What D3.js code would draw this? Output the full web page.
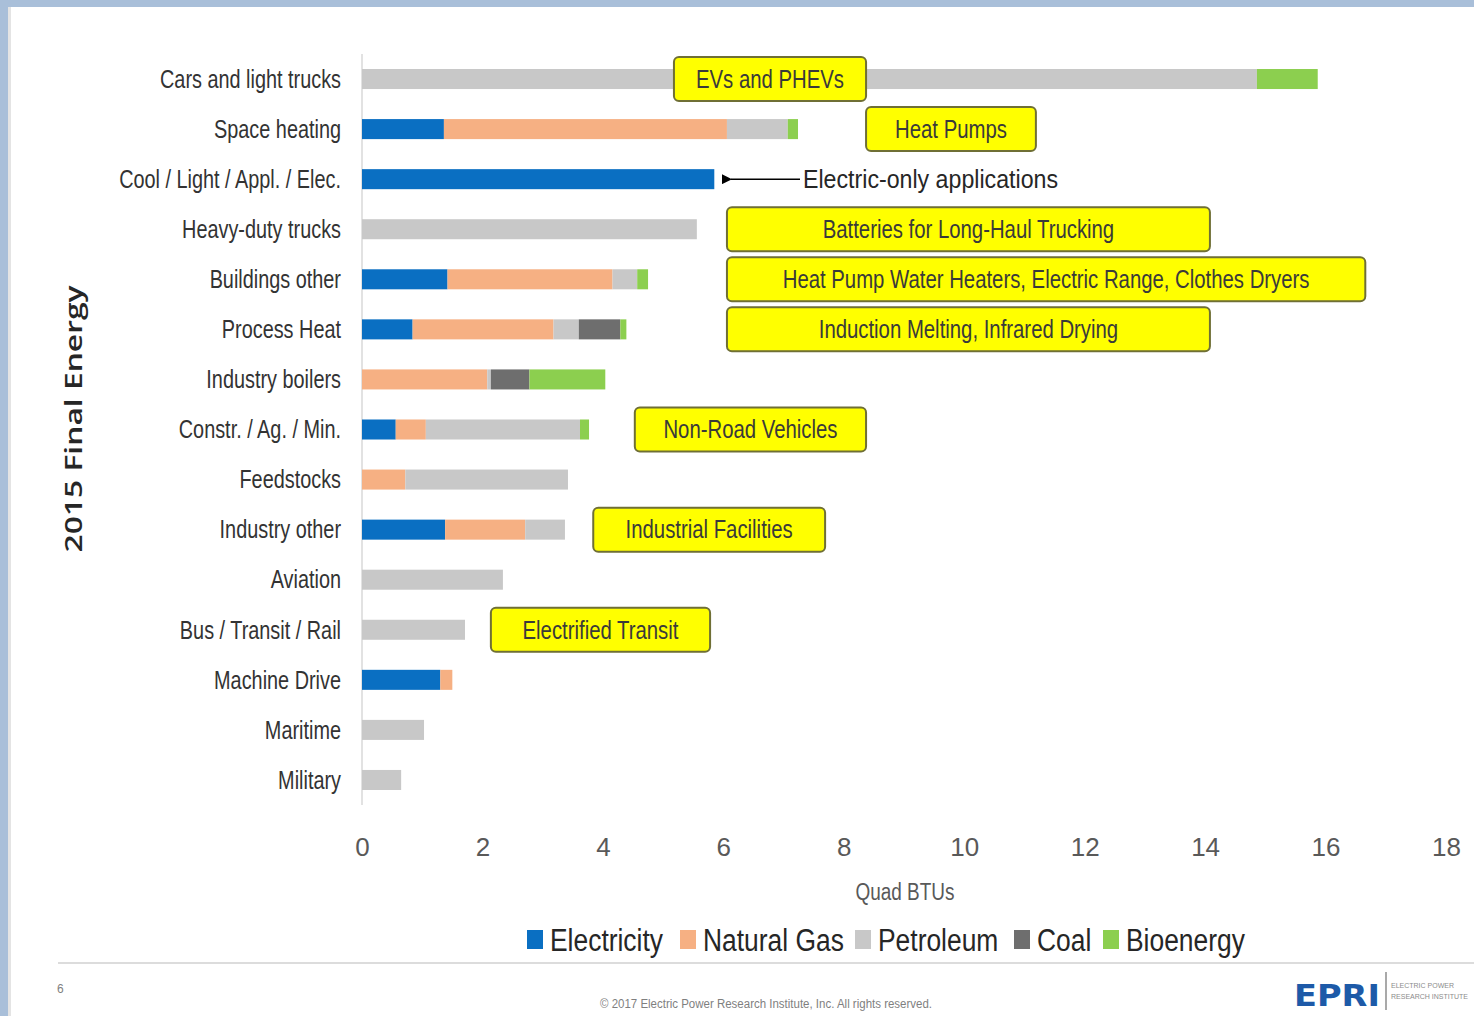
<!DOCTYPE html>
<html>
<head>
<meta charset="utf-8">
<script src="https://cdn.jsdelivr.net/npm/d3@7"></script>
<style>
  body { margin: 0; background: #ffffff; }
  svg { display: block; }
</style>
</head>
<body>
<script>
// 2015 final energy by end use, stacked by fuel (Quad BTUs)

let categories = ["Cars and light trucks", "Space heating", "Cool / Light / Appl. / Elec.", "Heavy-duty trucks",
    "Buildings other", "Process Heat", "Industry boilers", "Constr. / Ag. / Min.", "Feedstocks",
    "Industry other", "Aviation", "Bus / Transit / Rail", "Machine Drive", "Maritime", "Military"]

let fuels = ["Electricity", "Natural Gas", "Petroleum", "Coal", "Bioenergy"]

let electricity = [0, 1.36, 5.85, 0, 1.42, 0.84, 0, 0.56, 0, 1.38, 0, 0, 1.3, 0, 0]
let naturalGas  = [0, 4.70, 0, 0, 2.74, 2.34, 2.08, 0.50, 0.72, 1.33, 0, 0, 0.2, 0, 0]
let petroleum   = [14.86, 1.01, 0, 5.56, 0.41, 0.42, 0.06, 2.56, 2.70, 0.66, 2.34, 1.71, 0, 1.03, 0.65]
let coal        = [0, 0, 0, 0, 0, 0.69, 0.64, 0, 0, 0, 0, 0, 0, 0, 0]
let bioenergy   = [1.01, 0.17, 0, 0, 0.18, 0.10, 1.26, 0.15, 0, 0, 0, 0, 0, 0, 0]

let xTicks = [0, 2, 4, 6, 8, 10, 12, 14, 16, 18]

// callouts: text, row they sit on, left and right edge in Quad BTUs
let noteText  = ["EVs and PHEVs", "Heat Pumps", "Batteries for Long-Haul Trucking",
    "Heat Pump Water Heaters, Electric Range, Clothes Dryers", "Induction Melting, Infrared Drying",
    "Non-Road Vehicles", "Industrial Facilities", "Electrified Transit"]
let noteRow   = ["Cars and light trucks", "Space heating", "Heavy-duty trucks", "Buildings other",
    "Process Heat", "Constr. / Ag. / Min.", "Industry other", "Bus / Transit / Rail"]
let noteStart = [5.18, 8.37, 6.06, 6.06, 6.06, 4.53, 3.84, 2.14]
let noteEnd   = [8.37, 11.19, 14.08, 16.66, 14.08, 8.37, 7.69, 5.78]

function main(){

    let width = 1474
    let height = 1016
    let colors = ["#0a6fc2", "#f6b083", "#c8c8c8", "#6e6e6e", "#8ccf4f"]
    let font = "'Liberation Sans Narrow', 'Liberation Sans', sans-serif"

    let svg = d3.select('body')
        .append('svg')
        .attr('width', width)
        .attr('height', height)

    // slide frame
    svg.append('rect').attr('x', 0).attr('y', 0).attr('width', width).attr('height', 7).attr('fill', '#a9bfd9')
    svg.append('rect').attr('x', 0).attr('y', 0).attr('width', 8).attr('height', height).attr('fill', '#a9bfd9')
    svg.append('rect').attr('x', 8).attr('y', 7).attr('width', 3).attr('height', height).attr('fill', '#e4e4e4')

    let x = d3.scaleLinear()
                .domain([0, 18])
                .range([362, 1446])

    let y = d3.scaleBand()
                .domain(categories)
                .range([54, 805])
                .paddingInner(0.6)
                .paddingOuter(0.3)

    // squeeze text so it looks like the condensed slide font
    function squeeze(sel, ratio){
        sel.each(function(){
            let w = this.getComputedTextLength()
            d3.select(this).attr('textLength', w * ratio).attr('lengthAdjust', 'spacingAndGlyphs')
        })
    }
    function ratioFor(str, size, target){
        let t = svg.append('text').style('font-family', font).style('font-size', size + 'px').text(str)
        let r = target / t.node().getComputedTextLength()
        t.remove()
        return r
    }

    // stacked table
    let table = categories.map(function(c, i){
        return {cat: c, "Electricity": electricity[i], "Natural Gas": naturalGas[i],
                "Petroleum": petroleum[i], "Coal": coal[i], "Bioenergy": bioenergy[i]}
    })
    let series = d3.stack().keys(fuels)(table)

    // vertical axis line
    svg.append('line')
        .attr('x1', x(0)).attr('x2', x(0))
        .attr('y1', 54).attr('y2', 805)
        .attr('stroke', '#d9d9d9').attr('stroke-width', 1.5)

    svg.append('g')
        .selectAll('g')
        .data(series)
        .enter()
        .append('g')
        .attr('fill', function(d, i){ return colors[i] })
        .selectAll('rect')
        .data(function(d){ return d })
        .enter()
        .append('rect')
        .attr('x', function(d){ return x(d[0]) })
        .attr('y', function(d){ return y(d.data.cat) })
        .attr('width', function(d){ return x(d[1]) - x(d[0]) })
        .attr('height', y.bandwidth())

    // category labels
    let catRatio = ratioFor("Cars and light trucks", 25, 181)
    svg.append('g')
        .selectAll('text')
        .data(categories)
        .enter()
        .append('text')
        .attr('x', x(0) - 21)
        .attr('y', function(d){ return y(d) + y.bandwidth() / 2 })
        .attr('dy', '.35em')
        .attr('text-anchor', 'end')
        .style('font-family', font)
        .style('font-size', '25px')
        .attr('fill', '#333333')
        .text(function(d){ return d })
        .call(squeeze, catRatio)

    // x axis ticks
    let xAxis = svg.append('g')
        .attr('transform', 'translate(0,' + 838 + ')')
        .call(d3.axisBottom(x).tickValues(xTicks).tickSize(0).tickPadding(0))
    xAxis.select('.domain').remove()
    xAxis.selectAll('text')
        .style('font-family', font)
        .style('font-size', '26px')
        .attr('fill', '#595959')
        .attr('dy', '.71em')

    svg.append('text')
        .attr('x', 905).attr('y', 900)
        .attr('text-anchor', 'middle')
        .style('font-family', font)
        .style('font-size', '23px')
        .attr('fill', '#595959')
        .text('Quad BTUs')
        .call(squeeze, ratioFor('Quad BTUs', 23, 99))

    // y title
    svg.append('text')
        .attr('transform', 'translate(82,419) rotate(-90)')
        .attr('text-anchor', 'middle')
        .style('font-family', "'Open Sans', sans-serif")
        .style('font-weight', 600)
        .style('font-size', '24px')
        .attr('fill', '#262626')
        .text('2015 Final Energy')
        .attr('textLength', 267).attr('lengthAdjust', 'spacingAndGlyphs')

    // legend
    let legX = [527, 680, 855, 1014, 1103]
    let legRatio = ratioFor("Electricity", 31, 113)
    let leg = svg.append('g')
        .selectAll('g')
        .data(fuels)
        .enter()
        .append('g')
        .attr('transform', function(d, i){ return 'translate(' + legX[i] + ',940)' })
    leg.append('rect')
        .attr('x', 0).attr('y', -10)
        .attr('width', 16).attr('height', 19)
        .attr('fill', function(d, i){ return colors[i] })
    leg.append('text')
        .attr('x', 23).attr('y', 0)
        .attr('dy', '.35em')
        .style('font-family', font)
        .style('font-size', '31px')
        .attr('fill', '#262626')
        .text(function(d){ return d })
        .call(squeeze, legRatio)

    // callout boxes
    let notes = noteText.map(function(t, i){
        return {text: t, row: noteRow[i], x0: noteStart[i], x1: noteEnd[i]}
    })
    let noteRatio = ratioFor("EVs and PHEVs", 25, 148)
    let note = svg.append('g')
        .selectAll('g')
        .data(notes)
        .enter()
        .append('g')
    note.append('rect')
        .attr('x', function(d){ return x(d.x0) })
        .attr('y', function(d){ return y(d.row) + y.bandwidth() / 2 - 22 })
        .attr('width', function(d){ return x(d.x1) - x(d.x0) })
        .attr('height', 44)
        .attr('rx', 5)
        .attr('fill', '#ffff00')
        .attr('stroke', '#6f6f35')
        .attr('stroke-width', 2)
    note.append('text')
        .attr('x', function(d){ return (x(d.x0) + x(d.x1)) / 2 })
        .attr('y', function(d){ return y(d.row) + y.bandwidth() / 2 })
        .attr('dy', '.35em')
        .attr('text-anchor', 'middle')
        .style('font-family', font)
        .style('font-size', '25px')
        .attr('fill', '#3a3a3a')
        .text(function(d){ return d.text })
        .call(squeeze, noteRatio)

    // arrow to the electric-only bar
    let cy = y("Cool / Light / Appl. / Elec.") + y.bandwidth() / 2
    svg.append('defs').append('marker')
        .attr('id', 'head')
        .attr('viewBox', '0 0 10 10')
        .attr('refX', 1).attr('refY', 5)
        .attr('markerWidth', 10).attr('markerHeight', 10)
        .attr('markerUnits', 'userSpaceOnUse')
        .attr('orient', 'auto')
        .append('path')
        .attr('d', 'M10,0 L0,5 L10,10 Z')
        .attr('fill', '#000')
    svg.append('line')
        .attr('x1', 800).attr('x2', 731)
        .attr('y1', cy).attr('y2', cy)
        .attr('stroke', '#000').attr('stroke-width', 1.5)
        .attr('marker-end', 'url(#head)')
    svg.append('text')
        .attr('x', 803).attr('y', cy)
        .attr('dy', '.35em')
        .style('font-family', font)
        .style('font-size', '25px')
        .attr('fill', '#262626')
        .text('Electric-only applications')
        .call(squeeze, ratioFor('Electric-only applications', 25, 255))

    // footer
    svg.append('line')
        .attr('x1', 58).attr('x2', width)
        .attr('y1', 963).attr('y2', 963)
        .attr('stroke', '#dcdcdc').attr('stroke-width', 2)
    svg.append('text')
        .attr('x', 57).attr('y', 993)
        .style('font-family', font).style('font-size', '12px')
        .attr('fill', '#7f7f7f')
        .text('6')
    svg.append('text')
        .attr('x', 766).attr('y', 1008)
        .attr('text-anchor', 'middle')
        .style('font-family', font).style('font-size', '12px')
        .attr('fill', '#7f7f7f')
        .text('© 2017 Electric Power Research Institute, Inc. All rights reserved.')
        .call(squeeze, ratioFor('© 2017 Electric Power Research Institute, Inc. All rights reserved.', 12, 332))
    svg.append('text')
        .attr('x', 1294).attr('y', 1006)
        .style('font-family', "'DejaVu Sans', sans-serif")
        .style('font-weight', 700)
        .style('font-size', '30px')
        .attr('fill', '#1d5aa8')
        .text('EPRI')
        .attr('textLength', 86).attr('lengthAdjust', 'spacingAndGlyphs')
    svg.append('line')
        .attr('x1', 1386).attr('x2', 1386)
        .attr('y1', 972).attr('y2', 1010)
        .attr('stroke', '#8c8c8c').attr('stroke-width', 1.5)
    svg.append('text')
        .attr('x', 1391).attr('y', 988)
        .style('font-family', font).style('font-size', '7px')
        .attr('fill', '#8c8c8c')
        .text('ELECTRIC POWER')
    svg.append('text')
        .attr('x', 1391).attr('y', 999)
        .style('font-family', font).style('font-size', '7px')
        .attr('fill', '#8c8c8c')
        .text('RESEARCH INSTITUTE')
}

main()
</script>
</body>
</html>
